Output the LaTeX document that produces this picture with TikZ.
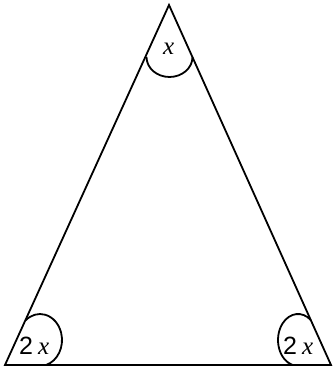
\documentclass[tikz,border=0pt]{standalone}
\usepackage{fontspec}
\setmainfont{Liberation Sans}
\newfontfamily\xfont{Liberation Serif}
\begin{document}
\begin{tikzpicture}[x=1pt,y=1pt,
  edge/.style={line width=1.8pt,line join=miter},
  anglearc/.style={line width=1.8pt},
  lbl/.style={inner sep=0pt,anchor=base west,font=\fontsize{25}{25}\selectfont}]
\useasboundingbox (0,0) rectangle (332,369);
\coordinate (A) at (169,364);
\coordinate (B) at (5,4);
\coordinate (C) at (331,4);
\draw[edge] (A) -- (B) -- (C) -- cycle;
% apex arc
\draw[anglearc] (146.5,312) arc[start angle=180,end angle=360,x radius=23,y radius=20];
% bottom-left arc
\draw[anglearc] ([shift={(-74:22 and 26)}]40,29) arc[start angle=-74,end angle=131,x radius=22,y radius=26];
% bottom-right arc
\draw[anglearc] ([shift={(50:20 and 26)}]298,29) arc[start angle=50,end angle=254,x radius=20,y radius=26];
\node[lbl] (la) at (163,314) {\xfont\itshape x};
\node[lbl] (lb) at (19,14) {2\hspace{5pt}{\xfont\itshape x}};
\node[lbl] (lc) at (283,14) {2\hspace{5pt}{\xfont\itshape x}};
\end{tikzpicture}
\end{document}
